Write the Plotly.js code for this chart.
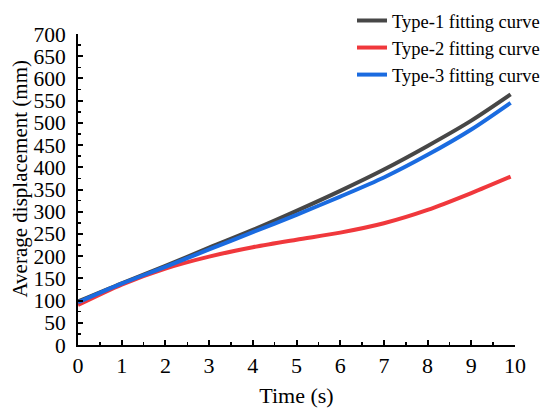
<!DOCTYPE html>
<html>
<head>
<meta charset="utf-8">
<script src="https://cdn.plot.ly/plotly-3.0.1.min.js"></script>
<style>html,body{margin:0;padding:0;background:#fff;}#chart{width:550px;height:412px;}</style>
</head>
<body>
<div id="chart"></div>
<script>
var time = [0, 1, 2, 3, 4, 5, 6, 7, 8, 9, 9.9];
var type1 = [98, 139, 178, 219, 259, 302, 347, 395, 448, 505, 564];
var type2 = [90, 136, 172, 199, 220, 237, 253, 274, 304, 342, 379];
var type3 = [96, 138, 176, 215, 254, 293, 334, 377, 428, 485, 545];
var seriesNames = ["Type-1 fitting curve", "Type-2 fitting curve", "Type-3 fitting curve"];
var colors = ["#474747", "#f0383c", "#1a6be0"];
var xTitle = "Time (s)";
var yTitle = "Average displacement (mm)";

var font = "Liberation Serif, Times New Roman, serif";
var data = [type1, type2, type3].map(function (ys, i) {
  return {
    x: time, y: ys, type: "scatter", mode: "lines", name: seriesNames[i],
    line: {color: colors[i], width: 4, shape: "spline", smoothing: 0.8}
  };
});

var layout = {
  width: 550, height: 412,
  margin: {l: 78, r: 35, t: 34, b: 67, autoexpand: false},
  paper_bgcolor: "#fff", plot_bgcolor: "#fff",
  font: {family: font, size: 20, color: "#000"},
  showlegend: true,
  legend: {x: 0.627, y: 1.103, xanchor: "left", yanchor: "top", bgcolor: "rgba(0,0,0,0)",
           font: {family: font, size: 18.5, color: "#000"}, itemwidth: 30},
  xaxis: {
    range: [0, 10], tickmode: "linear", tick0: 0, dtick: 1, automargin: false,
    ticks: "inside", ticklen: 5, tickwidth: 2, tickcolor: "#000",
    minor: {ticks: "inside", dtick: 0.5, ticklen: 3, tickwidth: 1.5, tickcolor: "#000"},
    showline: true, linewidth: 2, linecolor: "#000", mirror: false,
    showgrid: false, zeroline: false,
    tickfont: {family: font, size: 22, color: "#000"},
    title: {text: xTitle, font: {family: font, size: 22, color: "#000"}, standoff: 10}
  },
  yaxis: {
    range: [0, 700], tickmode: "linear", tick0: 0, dtick: 50, automargin: false,
    ticks: "inside", ticklen: 5, tickwidth: 2, tickcolor: "#000",
    minor: {ticks: "inside", dtick: 25, ticklen: 3, tickwidth: 1.5, tickcolor: "#000"},
    showline: true, linewidth: 2, linecolor: "#000", mirror: false,
    showgrid: false, zeroline: false, ticklabelstandoff: 6,
    tickfont: {family: font, size: 21.5, color: "#000"}
  },
  annotations: [{
    text: yTitle, textangle: -90, xref: "paper", yref: "paper",
    x: -0.133, y: 0.535, xanchor: "center", yanchor: "middle", showarrow: false,
    font: {family: font, size: 21, color: "#000"}
  }]
};

Plotly.newPlot("chart", data, layout, {displayModeBar: false, staticPlot: true});
</script>
</body>
</html>
